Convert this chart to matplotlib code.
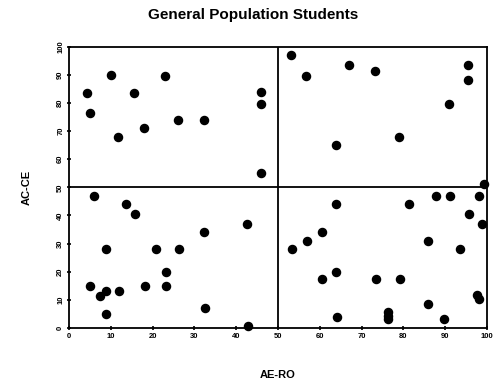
import numpy as np
import matplotlib.pyplot as plt

# Data (AE-RO vs AC-CE)
ae_ro = [4.2, 5.0, 10.0, 11.7, 15.6, 18.0, 23.0, 26.0, 32.2, 45.9, 45.9, 45.9,
         53.0, 56.8, 67.0, 73.2, 95.5, 95.5, 90.9, 78.9, 63.8, 99.4,
         6.0, 13.6, 15.8, 8.8, 5.1, 7.5, 8.8, 8.85, 12.0, 18.1, 20.7, 23.3, 23.3,
         26.2, 32.4, 32.5, 42.7, 42.8,
         87.9, 91.1, 98.0, 63.9, 81.4, 95.7, 98.9, 60.5, 56.9, 53.3, 85.8, 93.6,
         63.9, 60.5, 73.4, 79.1, 97.5, 98.1, 85.9, 64.0, 76.3, 76.3, 76.3, 89.6]
ac_ce = [83.5, 76.5, 90.0, 68.0, 83.5, 71.0, 89.5, 74.0, 74.0, 84.0, 79.5, 55.0,
         97.0, 89.5, 93.5, 91.5, 93.5, 88.0, 79.5, 68.0, 65.0, 51.0,
         47.0, 44.0, 40.5, 28.0, 15.0, 11.3, 13.2, 5.0, 13.2, 15.0, 28.0, 20.0, 15.0,
         28.0, 34.0, 7.0, 37.0, 0.5,
         47.0, 47.0, 47.0, 44.0, 44.0, 40.5, 37.0, 34.0, 31.0, 28.0, 31.0, 28.0,
         20.0, 17.3, 17.3, 17.3, 11.7, 10.2, 8.5, 4.0, 5.8, 4.2, 3.0, 3.2]
ticks = list(range(0, 101, 10))

plt.rcParams['font.family'] = ['Liberation Sans', 'DejaVu Sans']

fig = plt.figure(figsize=(4.95, 3.81), dpi=100)
ax = fig.add_axes([0.1394, 0.1394, 0.8444, 0.738])

ax.scatter(ae_ro, ac_ce, s=34, color='black', zorder=3, clip_on=False)

# quadrant dividers
ax.axvline(50, color='black', lw=1.3)
ax.axhline(50, color='black', lw=1.3)

ax.set_xlim(0, 100)
ax.set_ylim(0, 100)
ax.set_xticks(ticks)
ax.set_yticks(ticks)
ax.set_xticklabels([str(t) for t in ticks], fontsize=5.5, fontweight='bold')
ax.set_yticklabels([str(t) for t in ticks], fontsize=5.5, fontweight='bold', rotation=90, va='center')
ax.tick_params(direction='inout', length=3, width=1.2, pad=2)
for sp in ax.spines.values():
    sp.set_linewidth(1.3)

fig.text(253 / 495, 1 - 15 / 381, 'General Population Students', fontsize=11,
         fontweight='bold', ha='center', va='center')
ax.set_xlabel('AE-RO', fontsize=8, fontweight='bold', labelpad=22)
ax.set_ylabel('AC-CE', fontsize=8, fontweight='bold', labelpad=18)

plt.savefig('out.png', dpi=100)
